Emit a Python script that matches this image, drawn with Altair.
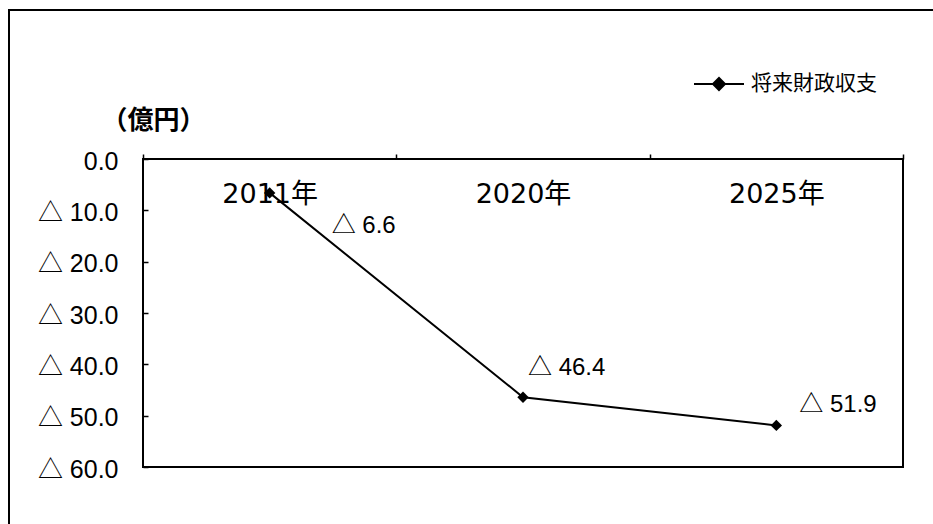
import altair as alt
import pandas as pd

# Projected fiscal balance (100 million yen); negative values are deficits
years = ["2011年", "2020年", "2025年"]
balance = [-6.6, -46.4, -51.9]
series_name = "将来財政収支"
y_ticks = [0, -10, -20, -30, -40, -50, -60]

df = pd.DataFrame({"year": years, "balance": balance, "series": [series_name] * len(years)})

W, H = 760, 308
JP = "Liberation Sans, Noto Sans CJK JP, sans-serif"

x_enc = alt.X(
    "year:N",
    sort=years,
    bandPosition=0.5,
    scale=alt.Scale(type="band", paddingInner=0, paddingOuter=0),
    axis=alt.Axis(
        orient="top", title=None, domain=False, ticks=True, tickBand="extent",
        tickSize=5, tickColor="black", tickWidth=1.5, labelAngle=0,
        labelPadding=-54, labelBaseline="bottom", labelFontSize=27,
        labelFont="DejaVu Sans, Noto Sans CJK JP, sans-serif", labelColor="black",
    ),
)

label_expr = "datum.value == 0 ? '0.0' : '△ ' + format(-datum.value, '.1f')"

# Axis shifted 5px into the plot so its ticks point inward from the left edge
y_enc = alt.Y(
    "balance:Q",
    scale=alt.Scale(domain=[-60, 0], nice=False, zero=False),
    axis=alt.Axis(
        orient="left", offset=-5, values=y_ticks, labelExpr=label_expr, domain=False,
        ticks=True, tickSize=5, tickWidth=1.5, tickColor="black", labelPadding=25, grid=False,
        labelFontSize=25, labelFont=JP, labelColor="black", labelOffset=2,
        title="（億円）", titleAngle=0, titleAlign="center", titleBaseline="middle",
        titleX=5, titleY=-39, titleFontSize=26, titleFont="Noto Sans CJK JP",
        titleFontWeight="bold", titleColor="black",
    ),
)

line = alt.Chart(df).mark_line(color="black", strokeWidth=2).encode(
    x=x_enc,
    y=y_enc,
    color=alt.Color(
        "series:N",
        scale=alt.Scale(range=["black"]),
        legend=alt.Legend(
            title=None, orient="none", legendX=550, legendY=-101, padding=0,
            symbolType="M-1,0L1,0M-0.24,0L0,-0.24L0.24,0L0,0.24Z",
            symbolSize=2500, symbolStrokeWidth=2, symbolFillColor="black",
            symbolStrokeColor="black", labelFontSize=21, labelFont="Noto Sans CJK JP",
            labelColor="black", labelOffset=6,
        ),
    ),
)

points = alt.Chart(df).mark_point(
    shape="diamond", filled=True, size=130, opacity=1, color="black"
).encode(x=x_enc, y=y_enc)

label_text = "'△ ' + format(-datum.balance, '.1f')"


def value_label(year, dx, dy):
    return (
        alt.Chart(df)
        .transform_filter(alt.datum.year == year)
        .transform_calculate(label=label_text)
        .mark_text(align="left", baseline="middle", dx=dx, dy=dy, fontSize=24, font=JP, color="black")
        .encode(x=x_enc, y=y_enc, text="label:N")
    )


labels = value_label("2011年", 62, 33) + value_label("2020年", 5, -29) + value_label("2025年", 23, -20)

# Outer frame around the whole figure
frame = alt.Chart(df).mark_rect(filled=False, stroke="black", strokeWidth=2).encode(
    x=alt.value(-134), y=alt.value(-149), x2=alt.value(W + 200), y2=alt.value(H + 200)
)

chart = (
    alt.layer(frame, line, points, labels)
    .properties(
        width=W, height=H,
        autosize=alt.AutoSizeParams(type="none"),
        padding={"left": 143, "top": 159, "right": 30, "bottom": 57},
        background="white",
    )
    .configure_view(stroke="black", strokeWidth=2)
)

chart.save("out.html", embed_options={"renderer": "svg", "actions": False})
